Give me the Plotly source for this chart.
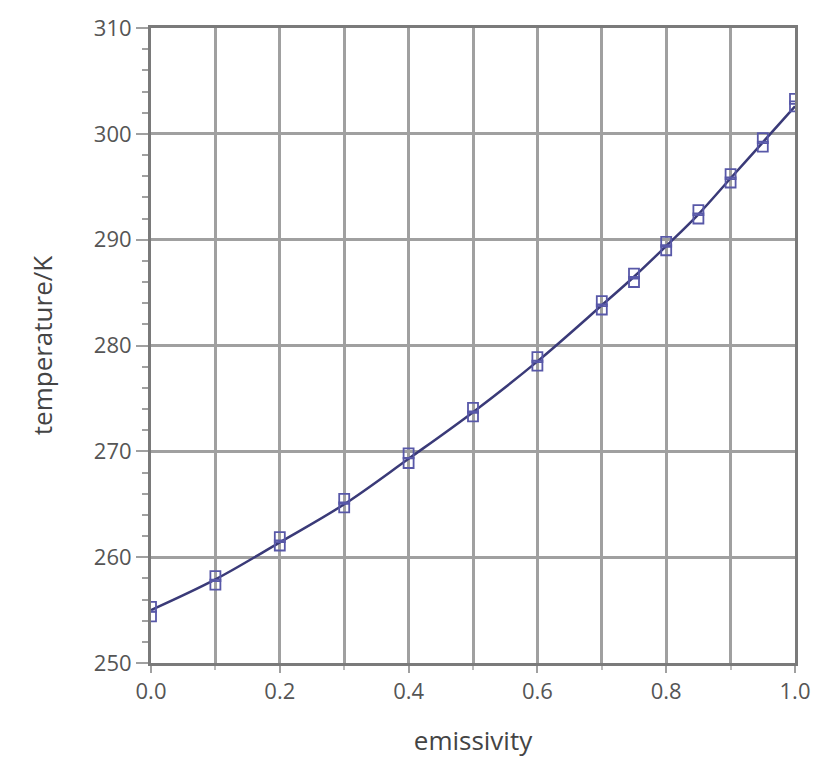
import plotly.graph_objects as go

emissivity = [0.0, 0.1, 0.2, 0.3, 0.4, 0.5, 0.6, 0.7, 0.75, 0.8, 0.85, 0.9, 0.95, 1.0]
temp_upper = [255.3, 258.2, 261.9, 265.5, 269.8, 274.1, 278.9, 284.2, 286.8, 289.8, 292.8, 296.2, 299.6, 303.3]
temp_lower = [254.4, 257.4, 261.1, 264.7, 268.9, 273.3, 278.1, 283.4, 286.0, 289.0, 292.0, 295.4, 298.8, 302.6]
temp_curve = [255.0, 257.9, 261.4, 265.0, 269.3, 273.7, 278.5, 283.8, 286.5, 289.4, 292.4, 295.8, 299.2, 302.6]

x_ticks = [0.0, 0.2, 0.4, 0.6, 0.8, 1.0]
x_ticklabels = ["0.0", "0.2", "0.4", "0.6", "0.8", "1.0"]
y_ticks = [250, 260, 270, 280, 290, 300, 310]

fig = go.Figure()
fig.add_trace(go.Scatter(x=emissivity, y=temp_curve, mode="lines",
                         line=dict(color="#3a3a78", width=2.5, shape="spline"),
                         showlegend=False, hoverinfo="skip"))
for ys in (temp_upper, temp_lower):
    fig.add_trace(go.Scatter(x=emissivity, y=ys, mode="markers",
                             marker=dict(symbol="square-open", size=10,
                                         color="#5858a8", line=dict(width=1.8)),
                             showlegend=False))

font_family = "Open Sans, Noto Sans, sans-serif"
fig.update_layout(
    width=823, height=767,
    margin=dict(l=151, r=28, t=24, b=104),
    plot_bgcolor="white", paper_bgcolor="white",
    font=dict(family=font_family, color="#555555", size=22),
)
fig.update_xaxes(
    range=[0, 1], tickvals=x_ticks, ticktext=x_ticklabels,
    showgrid=True, gridcolor="#a0a0a0", gridwidth=2.5,
    minor=dict(dtick=0.1, showgrid=True, gridcolor="#a0a0a0", gridwidth=2.5,
               ticks="outside", ticklen=4, tickcolor="#bbbbbb"),
    showline=True, linecolor="#7a7a7a", linewidth=3, mirror=True,
    ticks="outside", ticklen=7, tickwidth=2, tickcolor="#a0a0a0",
    tickfont=dict(size=22, color="#555555"),
    title=dict(text="emissivity", font=dict(size=26, color="#444444"), standoff=28),
    zeroline=False,
)
fig.update_yaxes(
    range=[250, 310], tickvals=y_ticks,
    showgrid=True, gridcolor="#a0a0a0", gridwidth=2.5,
    minor=dict(dtick=2, ticks="outside", ticklen=6, tickcolor="#a0a0a0", showgrid=False),
    showline=True, linecolor="#7a7a7a", linewidth=3, mirror=True,
    ticks="outside", ticklen=12, tickwidth=2, tickcolor="#a0a0a0",
    tickfont=dict(size=22, color="#555555"),
    title=dict(text="temperature/K", font=dict(size=26, color="#444444"), standoff=34),
    zeroline=False,
)
fig.write_html("out.html")
